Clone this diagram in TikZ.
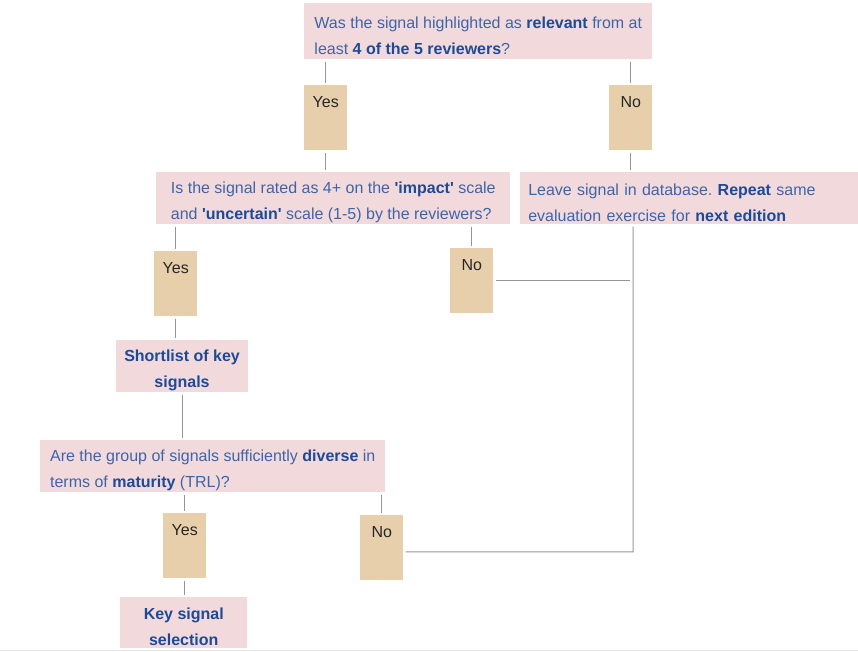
\documentclass[tikz,border=0pt]{standalone}
\usepackage{fontspec}
\setmainfont{Liberation Sans}
\usepackage{xcolor}
\definecolor{pinkbox}{RGB}{242,218,220}
\definecolor{tanbox}{RGB}{232,207,172}
\definecolor{textblue}{RGB}{62,100,168}
\definecolor{boldblue}{RGB}{28,74,150}
\definecolor{linegray}{RGB}{150,150,150}
\usepackage{tikz}
\newdimen\pxu \pxu=0.75pt
\newcommand\keyword[1]{\textbf{\color{boldblue}#1}}
\newcommand\lift{\rule{0pt}{20\pxu}}
\frenchspacing

\begin{document}
\begin{tikzpicture}[x=0.75pt, y=-0.75pt,
  every node/.style={font=\fontsize{12pt}{19.5pt}\selectfont},
  question/.style={anchor=north west, fill=pinkbox, text=textblue, align=left,
    inner xsep=8\pxu, inner ysep=0pt, minimum height=52\pxu},
  outcome/.style={question, align=center, minimum width=127\pxu},
  answer/.style={anchor=north west, fill=tanbox, text=black!85, minimum width=43\pxu,
    inner xsep=0pt, inner ysep=4\pxu, text height=18\pxu, text depth=39\pxu},
  link/.style={draw=linegray, line width=1\pxu, shorten <=2\pxu, shorten >=2\pxu}]
  \useasboundingbox (0,0) rectangle (858,652);
  \draw[gray!20, line width=1.5\pxu] (0,650.5) -- (858,650.5);

  % first question
  \node[question, minimum width=348\pxu, minimum height=56\pxu] (relevant) at (304,3)
    {\lift Was the signal highlighted as \keyword{relevant} from at\\
     least \keyword{4 of the 5 reviewers}?};
  \node[answer] (yes1) at (304,85) {Yes};
  \node[answer] (no1) at (609,85) {No};

  % second question and the way back
  \node[question, minimum width=354\pxu] (impact) at (156,172)
    {\lift Is the signal rated as 4+ on the \keyword{\textquotesingle impact\textquotesingle} scale\\
     and \keyword{\textquotesingle uncertain\textquotesingle} scale (1-5) by the reviewers?};
  \node[question, text width=322\pxu] (leave) at (520,172)
    {\lift Leave signal in database. \keyword{Repeat} same\\
     evaluation exercise for \keyword{next edition}};
  \node[answer] (yes2) at (154,251) {Yes};
  \node[answer] (no2) at (450,248) {No};

  \node[outcome] (shortlist) at (116,340) {\lift\keyword{Shortlist of key}\\\keyword{signals}};

  % third question
  \node[question, minimum width=345\pxu] (diverse) at (40,440)
    {\lift Are the group of signals sufficiently \keyword{diverse} in\\
     terms of \keyword{maturity} (TRL)?};
  \node[answer] (yes3) at (163,513) {Yes};
  \node[answer] (no3) at (360,515) {No};
  \node[outcome, minimum height=51\pxu] (selection) at (120,597)
    {\lift\keyword{Key signal}\\\keyword{selection}};

  \coordinate (merge) at (633,552);

  \draw[link] (yes1.north |- relevant.south) -- (yes1.north);
  \draw[link] (no1.north |- relevant.south) -- (no1.north);
  \draw[link] (yes1.south) -- (yes1.south |- impact.north);
  \draw[link] (no1.south) -- (no1.south |- leave.north);
  \draw[link] (yes2.north |- impact.south) -- (yes2.north);
  \draw[link] (no2.north |- impact.south) -- (no2.north);
  \draw[link] (yes2.south) -- (yes2.south |- shortlist.north);
  \draw[link] (shortlist.south) -- (shortlist.south |- diverse.north);
  \draw[link] (yes3.north |- diverse.south) -- (yes3.north);
  \draw[link] (no3.north |- diverse.south) -- (no3.north);
  \draw[link] (yes3.south) -- (yes3.south |- selection.north);
  \draw[link, shorten >=3\pxu] (no2.east) -- (no2.east -| merge);
  \draw[link] ([yshift=-4\pxu]no3.east) -- (merge) -- (merge |- leave.south);
\end{tikzpicture}
\end{document}
